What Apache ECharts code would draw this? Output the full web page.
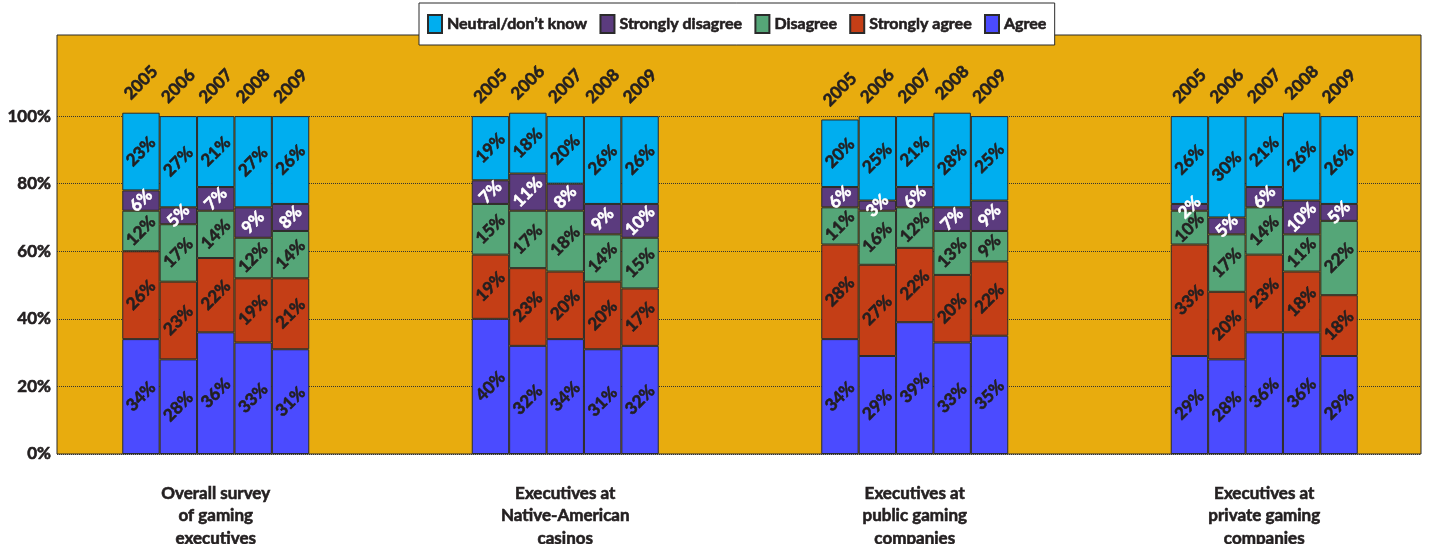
<!DOCTYPE html>
<html>
<head>
<meta charset="utf-8">
<script src="https://cdn.jsdelivr.net/npm/echarts@6/dist/echarts.min.js"></script>
<style>
  html, body { margin: 0; padding: 0; background: #fff; }
  #chart { width: 1429px; height: 544px; }
</style>
</head>
<body>
<div id="chart"></div>
<script>
// categories
const years = ['2005', '2006', '2007', '2008', '2009'];
const groups = [
    'Overall survey\nof gaming\nexecutives',
    'Executives at\nNative-American\ncasinos',
    'Executives at\npublic gaming\ncompanies',
    'Executives at\nprivate gaming\ncompanies'
];
const yTicks = [0, 20, 40, 60, 80, 100];

// values, one row per group, one column per year
const agree = [
    [34, 28, 36, 33, 31],
    [40, 32, 34, 31, 32],
    [34, 29, 39, 33, 35],
    [29, 28, 36, 36, 29]
];
const stronglyAgree = [
    [26, 23, 22, 19, 21],
    [19, 23, 20, 20, 17],
    [28, 27, 22, 20, 22],
    [33, 20, 23, 18, 18]
];
const disagree = [
    [12, 17, 14, 12, 14],
    [15, 17, 18, 14, 15],
    [11, 16, 12, 13, 9],
    [10, 17, 14, 11, 22]
];
const stronglyDisagree = [
    [6, 5, 7, 9, 8],
    [7, 11, 8, 9, 10],
    [6, 3, 6, 7, 9],
    [2, 5, 6, 10, 5]
];
const neutral = [
    [23, 27, 21, 27, 26],
    [19, 18, 20, 26, 26],
    [20, 25, 21, 28, 25],
    [26, 30, 21, 26, 26]
];

const segments = [
    { name: 'Agree', values: agree, color: '#4b4bff', text: '#231f20' },
    { name: 'Strongly agree', values: stronglyAgree, color: '#c43e16', text: '#231f20' },
    { name: 'Disagree', values: disagree, color: '#55a678', text: '#231f20' },
    { name: 'Strongly disagree', values: stronglyDisagree, color: '#5b3b7e', text: '#ffffff' },
    { name: 'Neutral/don\u2019t know', values: neutral, color: '#00aeef', text: '#231f20' }
];

const font = 'Lato, "DejaVu Sans", sans-serif';
const dark = '#231f20';

// bold text, thickened a little with a stroke of the same colour
function heavy(color, size) {
    return {
        color: color,
        fontFamily: font,
        fontWeight: 'bold',
        fontSize: size,
        textBorderColor: color,
        textBorderWidth: 0.6
    };
}

var chart = echarts.init(document.getElementById('chart'));

let series = [];
years.forEach(function(year, yi) {
    segments.forEach(function(seg) {
        series.push({
            type: 'bar',
            name: seg.name,
            xAxisIndex: 1,
            yAxisIndex: 1,
            stack: year,
            barWidth: 37.4,
            barGap: '0%',
            data: seg.values.map(row => row[yi]),
            itemStyle: {
                color: seg.color,
                borderColor: '#2b2b2b',
                borderWidth: 1
            },
            label: Object.assign({
                show: true,
                position: 'inside',
                rotate: 45,
                formatter: '{c}%'
            }, heavy(seg.text, 17))
        });
    });
    // empty bar on top of the stack, only for the year label
    series.push({
        type: 'bar',
        name: 'year' + year,
        xAxisIndex: 1,
        yAxisIndex: 1,
        stack: year,
        barWidth: 37.4,
        barGap: '0%',
        data: groups.map(() => 0),
        itemStyle: { color: 'rgba(0,0,0,0)' },
        label: Object.assign({
            show: true,
            position: 'top',
            distance: 30,
            align: 'center',
            verticalAlign: 'middle',
            rotate: 45,
            formatter: year
        }, heavy(dark, 17))
    });
});

option = {
    animation: false,
    backgroundColor: '#ffffff',
    legend: {
        data: segments.map(s => s.name).reverse(),
        top: 3,
        left: 419,
        icon: 'rect',
        itemWidth: 14,
        itemHeight: 18,
        itemGap: 12,
        padding: [11, 8, 11, 8],
        backgroundColor: '#ffffff',
        borderColor: '#2b2b2b',
        borderWidth: 1,
        textStyle: heavy(dark, 16)
    },
    grid: [{
        left: 57,
        right: 8,
        top: 35,
        bottom: 90,
        outerBoundsMode: 'none',
        containLabel: false,
        show: true,
        backgroundColor: '#e8ac0e',
        borderColor: '#2b2b2b',
        borderWidth: 1
    }, {
        left: 41,
        width: 1398,
        top: 35,
        bottom: 90,
        outerBoundsMode: 'none',
        containLabel: false
    }],
    xAxis: [{
        gridIndex: 0,
        type: 'value',
        show: false
    }, {
        gridIndex: 1,
        type: 'category',
        data: groups,
        axisLine: { show: false },
        axisTick: { show: false },
        axisLabel: Object.assign({
            margin: 28,
            lineHeight: 22.5
        }, heavy(dark, 17))
    }],
    yAxis: [{
        gridIndex: 0,
        type: 'value',
        min: 0,
        max: 124,
        interval: 20,
        axisLine: { show: false },
        axisTick: { show: false },
        axisLabel: Object.assign({
            formatter: function(v) {
                return yTicks.indexOf(v) >= 0 ? v + '%' : '';
            },
            margin: 6
        }, heavy(dark, 17)),
        splitLine: {
            lineStyle: {
                type: 'dotted',
                width: 1,
                color: ['#333', '#333', '#333', '#333', '#333', '#333', 'rgba(0,0,0,0)', 'rgba(0,0,0,0)']
            }
        }
    }, {
        gridIndex: 1,
        type: 'value',
        min: 0,
        max: 124,
        show: false
    }],
    series: series
};
chart.setOption(option);
</script>
</body>
</html>
